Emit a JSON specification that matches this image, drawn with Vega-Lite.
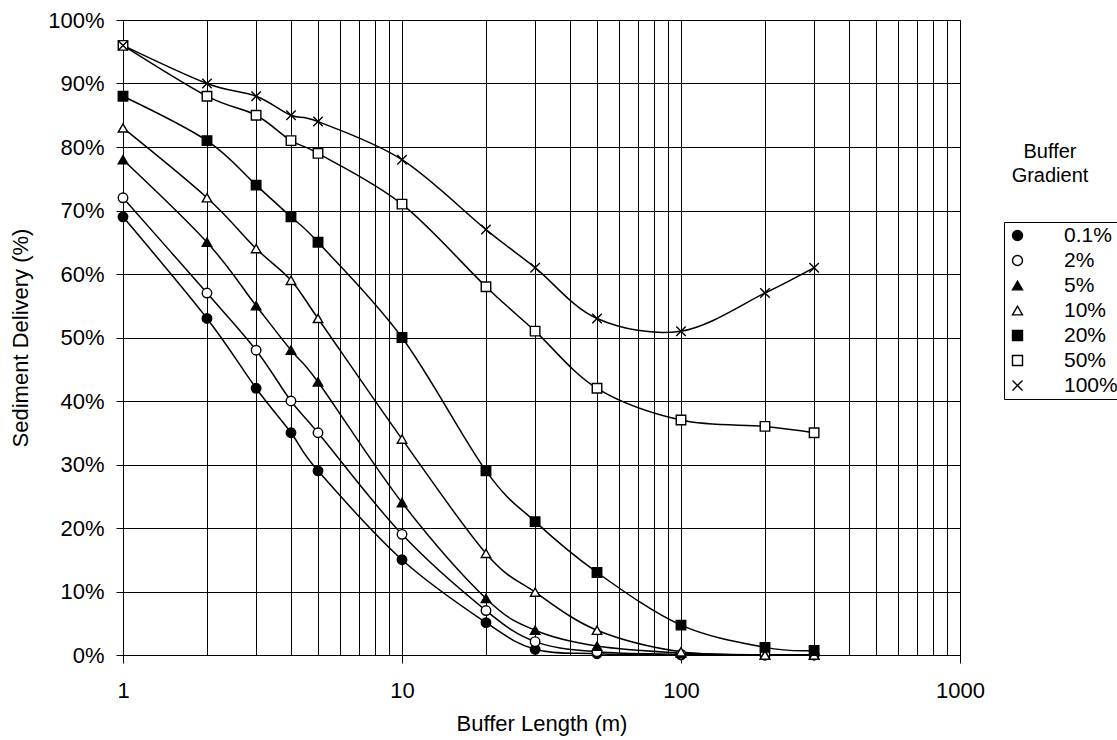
{
  "$schema": "https://vega.github.io/schema/vega-lite/v6.json",
  "width": 837,
  "height": 635,
  "autosize": {"type": "none"},
  "padding": {"left": 123, "top": 20, "right": 157, "bottom": 85},
  "background": "white",
  "title": {
    "text": ["Buffer", "Gradient"],
    "orient": "top",
    "anchor": "start",
    "frame": "group",
    "align": "center",
    "baseline": "top",
    "dx": 927,
    "dy": 181,
    "font": "Liberation Sans",
    "fontSize": 20,
    "fontWeight": "normal",
    "lineHeight": 24,
    "color": "black"
  },
  "config": {
    "view": {"stroke": "black", "strokeWidth": 1},
    "axis": {
      "labelFont": "Liberation Sans",
      "titleFont": "Liberation Sans",
      "labelFontSize": 22,
      "titleFontSize": 22,
      "titleFontWeight": "normal",
      "labelColor": "black",
      "titleColor": "black",
      "domainColor": "black",
      "tickColor": "black",
      "gridColor": "black",
      "gridOpacity": 1,
      "gridWidth": 1
    },
    "legend": {
      "labelFont": "Liberation Sans",
      "labelFontSize": 21,
      "labelColor": "black"
    }
  },
  "data": {
    "values": [
      {"len": 1, "grad": "0.1%", "val": 0.69},
      {"len": 2, "grad": "0.1%", "val": 0.53},
      {"len": 3, "grad": "0.1%", "val": 0.42},
      {"len": 4, "grad": "0.1%", "val": 0.35},
      {"len": 5, "grad": "0.1%", "val": 0.29},
      {"len": 10, "grad": "0.1%", "val": 0.15},
      {"len": 20, "grad": "0.1%", "val": 0.051},
      {"len": 30, "grad": "0.1%", "val": 0.009},
      {"len": 50, "grad": "0.1%", "val": 0.002},
      {"len": 100, "grad": "0.1%", "val": 0.0},
      {"len": 200, "grad": "0.1%", "val": 0.0},
      {"len": 300, "grad": "0.1%", "val": 0.0},
      {"len": 1, "grad": "2%", "val": 0.72},
      {"len": 2, "grad": "2%", "val": 0.57},
      {"len": 3, "grad": "2%", "val": 0.48},
      {"len": 4, "grad": "2%", "val": 0.40},
      {"len": 5, "grad": "2%", "val": 0.35},
      {"len": 10, "grad": "2%", "val": 0.19},
      {"len": 20, "grad": "2%", "val": 0.07},
      {"len": 30, "grad": "2%", "val": 0.021},
      {"len": 50, "grad": "2%", "val": 0.005},
      {"len": 100, "grad": "2%", "val": 0.001},
      {"len": 200, "grad": "2%", "val": 0.0},
      {"len": 300, "grad": "2%", "val": 0.0},
      {"len": 1, "grad": "5%", "val": 0.78},
      {"len": 2, "grad": "5%", "val": 0.65},
      {"len": 3, "grad": "5%", "val": 0.55},
      {"len": 4, "grad": "5%", "val": 0.48},
      {"len": 5, "grad": "5%", "val": 0.43},
      {"len": 10, "grad": "5%", "val": 0.24},
      {"len": 20, "grad": "5%", "val": 0.089},
      {"len": 30, "grad": "5%", "val": 0.039},
      {"len": 50, "grad": "5%", "val": 0.014},
      {"len": 100, "grad": "5%", "val": 0.003},
      {"len": 200, "grad": "5%", "val": 0.0},
      {"len": 300, "grad": "5%", "val": 0.0},
      {"len": 1, "grad": "10%", "val": 0.83},
      {"len": 2, "grad": "10%", "val": 0.72},
      {"len": 3, "grad": "10%", "val": 0.64},
      {"len": 4, "grad": "10%", "val": 0.59},
      {"len": 5, "grad": "10%", "val": 0.53},
      {"len": 10, "grad": "10%", "val": 0.34},
      {"len": 20, "grad": "10%", "val": 0.16},
      {"len": 30, "grad": "10%", "val": 0.099},
      {"len": 50, "grad": "10%", "val": 0.039},
      {"len": 100, "grad": "10%", "val": 0.005},
      {"len": 200, "grad": "10%", "val": 0.0},
      {"len": 300, "grad": "10%", "val": 0.0},
      {"len": 1, "grad": "20%", "val": 0.88},
      {"len": 2, "grad": "20%", "val": 0.81},
      {"len": 3, "grad": "20%", "val": 0.74},
      {"len": 4, "grad": "20%", "val": 0.69},
      {"len": 5, "grad": "20%", "val": 0.65},
      {"len": 10, "grad": "20%", "val": 0.50},
      {"len": 20, "grad": "20%", "val": 0.29},
      {"len": 30, "grad": "20%", "val": 0.21},
      {"len": 50, "grad": "20%", "val": 0.13},
      {"len": 100, "grad": "20%", "val": 0.047},
      {"len": 200, "grad": "20%", "val": 0.012},
      {"len": 300, "grad": "20%", "val": 0.007},
      {"len": 1, "grad": "50%", "val": 0.96},
      {"len": 2, "grad": "50%", "val": 0.88},
      {"len": 3, "grad": "50%", "val": 0.85},
      {"len": 4, "grad": "50%", "val": 0.81},
      {"len": 5, "grad": "50%", "val": 0.79},
      {"len": 10, "grad": "50%", "val": 0.71},
      {"len": 20, "grad": "50%", "val": 0.58},
      {"len": 30, "grad": "50%", "val": 0.51},
      {"len": 50, "grad": "50%", "val": 0.42},
      {"len": 100, "grad": "50%", "val": 0.37},
      {"len": 200, "grad": "50%", "val": 0.36},
      {"len": 300, "grad": "50%", "val": 0.35},
      {"len": 1, "grad": "100%", "val": 0.96},
      {"len": 2, "grad": "100%", "val": 0.90},
      {"len": 3, "grad": "100%", "val": 0.88},
      {"len": 4, "grad": "100%", "val": 0.85},
      {"len": 5, "grad": "100%", "val": 0.84},
      {"len": 10, "grad": "100%", "val": 0.78},
      {"len": 20, "grad": "100%", "val": 0.67},
      {"len": 30, "grad": "100%", "val": 0.61},
      {"len": 50, "grad": "100%", "val": 0.53},
      {"len": 100, "grad": "100%", "val": 0.51},
      {"len": 200, "grad": "100%", "val": 0.57},
      {"len": 300, "grad": "100%", "val": 0.61}
    ]
  },
  "encoding": {
    "x": {
      "field": "len",
      "type": "quantitative",
      "scale": {"type": "log", "domain": [1, 1000], "nice": false},
      "axis": {
        "title": "Buffer Length (m)",
        "values": [1, 2, 3, 4, 5, 6, 7, 8, 9, 10, 20, 30, 40, 50, 60, 70, 80, 90, 100, 200, 300, 400, 500, 600, 700, 800, 900, 1000],
        "format": "d",
        "labelExpr": "datum.value == 1 || datum.value == 10 || datum.value == 100 || datum.value == 1000 ? datum.label : ''",
        "tickSize": 8,
        "tickOpacity": {"condition": {"test": "datum.value == 1 || datum.value == 10 || datum.value == 100 || datum.value == 1000", "value": 1}, "value": 0},
        "labelPadding": 17,
        "titlePadding": 12,
        "labelFlush": false,
        "labelOverlap": false,
        "grid": true
      }
    },
    "y": {
      "field": "val",
      "type": "quantitative",
      "scale": {"domain": [0, 1], "nice": false},
      "axis": {
        "title": "Sediment Delivery (%)",
        "values": [0, 0.1, 0.2, 0.3, 0.4, 0.5, 0.6, 0.7, 0.8, 0.9, 1],
        "format": ".0%",
        "tickSize": 7,
        "labelPadding": 12,
        "titlePadding": 15,
        "grid": true
      }
    }
  },
  "layer": [
    {
      "mark": {"type": "line", "interpolate": "cardinal", "stroke": "black", "strokeWidth": 1.5},
      "encoding": {"detail": {"field": "grad", "type": "nominal"}}
    },
    {
      "mark": {"type": "point", "size": 90, "stroke": "black", "strokeWidth": 1.4, "opacity": 1},
      "encoding": {
        "fill": {
          "field": "grad",
          "type": "nominal",
          "scale": {
            "domain": ["0.1%", "2%", "5%", "10%", "20%", "50%", "100%"],
            "range": ["black", "white", "black", "white", "black", "white", "white"]
          },
          "legend": {
            "title": null,
            "orient": "none",
            "legendX": 881,
            "legendY": 202,
            "strokeColor": "black",
            "fillColor": "white",
            "padding": 3,
            "rowPadding": 3,
            "symbolSize": 100,
            "labelOffset": 36,
            "symbolStrokeColor": "black",
            "symbolStrokeWidth": 1.4,
            "symbolOpacity": 1
          }
        },
        "shape": {
          "field": "grad",
          "type": "nominal",
          "scale": {
            "domain": ["0.1%", "2%", "5%", "10%", "20%", "50%", "100%"],
            "range": ["circle", "circle", "triangle-up", "triangle-up", "square", "square", "M-1,-1L1,1M-1,1L1,-1"]
          }
        }
      }
    }
  ]
}
